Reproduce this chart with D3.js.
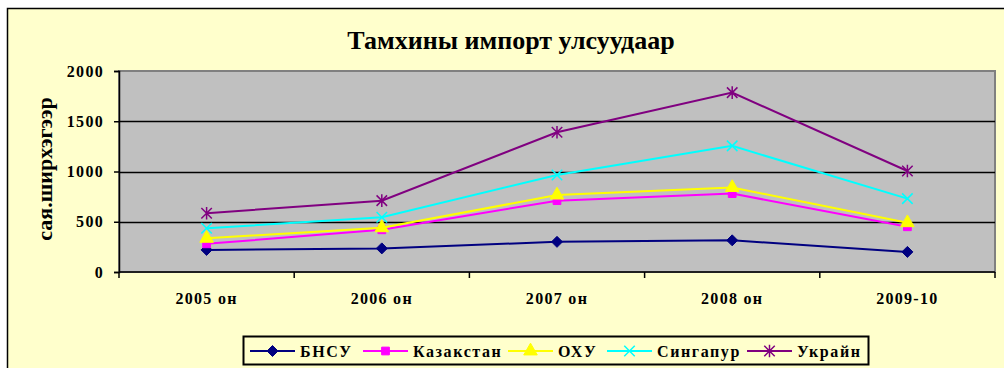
<!DOCTYPE html>
<html>
<head>
<meta charset="utf-8">
<script src="https://cdn.jsdelivr.net/npm/d3@7"></script>
<style>
  html, body { margin: 0; padding: 0; background: #ffffff; }
  svg { display: block; }
  text { font-family: "Liberation Serif", "Times New Roman", serif; font-weight: bold; fill: #000; }
</style>
</head>
<body>
<svg id="chart" width="1004" height="368"></svg>
<script>
// Tobacco imports by country, million pieces
const categories = ["2005 он", "2006 он", "2007 он", "2008 он", "2009-10"];
const bnsu       = [220, 235, 300, 315, 200];
const kazakhstan = [280, 420, 710, 780, 450];
const ohu        = [335, 440, 765, 840, 490];
const singapore  = [435, 545, 965, 1255, 730];
const ukraine    = [585, 710, 1390, 1785, 1005];
const yTicks     = [0, 500, 1000, 1500, 2000];
const seriesNames  = ["БНСУ", "Казакстан", "ОХУ", "Сингапур", "Украйн"];
const seriesValues = [bnsu, kazakhstan, ohu, singapore, ukraine];
const seriesColors = ["#000080", "#ff00ff", "#ffff00", "#00ffff", "#800080"];

const titleText = "Тамхины импорт улсуудаар";
const yTitleText = "сая.ширхэгээр";

// Excel-like marker shapes
const diamondSymbol = {
  draw(ctx, size) {
    const r = Math.sqrt(size) / 2;
    ctx.moveTo(0, -r); ctx.lineTo(r, 0); ctx.lineTo(0, r); ctx.lineTo(-r, 0); ctx.closePath();
  }
};
const starSymbol = {
  draw(ctx, size) {
    const r = Math.sqrt(size) / 2;
    ctx.moveTo(-r, -r); ctx.lineTo(r, r);
    ctx.moveTo(-r, r); ctx.lineTo(r, -r);
    ctx.moveTo(0, -r * 1.2); ctx.lineTo(0, r * 1.2);
  }
};
const crossSymbol = {
  draw(ctx, size) {
    const r = Math.sqrt(size) / 2;
    ctx.moveTo(-r, -r); ctx.lineTo(r, r);
    ctx.moveTo(-r, r); ctx.lineTo(r, -r);
  }
};
const markers = [
  { type: diamondSymbol, size: 121, filled: true },
  { type: d3.symbolSquare, size: 60, filled: true },
  { type: d3.symbolTriangle, size: 80, filled: true },
  { type: crossSymbol, size: 110, filled: false },
  { type: starSymbol, size: 110, filled: false }
];

const svg = d3.select("#chart");

// chart area
svg.append("rect")
  .attr("x", 7.5).attr("y", 8.5)
  .attr("width", 1010).attr("height", 380)
  .attr("fill", "#ffffcc")
  .attr("stroke", "#000").attr("stroke-width", 1.5);

const plot = { left: 119, right: 995, top: 71, bottom: 272 };

const x = d3.scaleBand().domain(categories).range([plot.left, plot.right]).padding(0);
const y = d3.scaleLinear().domain([0, 2000]).range([plot.bottom, plot.top]);

// plot background
svg.append("rect")
  .attr("x", plot.left).attr("y", plot.top)
  .attr("width", plot.right - plot.left).attr("height", plot.bottom - plot.top)
  .attr("fill", "#c0c0c0")
  .attr("stroke", "#808080").attr("stroke-width", 2);

// horizontal gridlines
svg.append("g")
  .selectAll("line")
  .data(yTicks.filter(d => d > 0 && d < 2000))
  .join("line")
  .attr("x1", plot.left).attr("x2", plot.right)
  .attr("y1", d => Math.round(y(d)) + 0.5).attr("y2", d => Math.round(y(d)) + 0.5)
  .attr("stroke", "#000").attr("stroke-width", 1.5);

// y axis
const yAxis = svg.append("g")
  .attr("transform", `translate(${plot.left},0)`)
  .call(d3.axisLeft(y).tickValues(yTicks).tickSize(5).tickPadding(10).tickFormat(d3.format("d")));
yAxis.select(".domain").attr("stroke", "#000").attr("stroke-width", 1.5);
yAxis.selectAll(".tick line").attr("stroke", "#000").attr("stroke-width", 1.5);
yAxis.selectAll(".tick text")
  .style("font-family", "'Liberation Serif', serif")
  .style("font-weight", "bold").style("font-size", "16px")
  .style("letter-spacing", "1.3px")
  .attr("fill", "#000");

// x axis: ticks at category boundaries, labels centred in bands
const xBounds = categories.map(c => x(c)).concat([plot.right]);
const xAxis = svg.append("g");
xAxis.append("line")
  .attr("x1", plot.left).attr("x2", plot.right)
  .attr("y1", plot.bottom).attr("y2", plot.bottom)
  .attr("stroke", "#000").attr("stroke-width", 1.5);
xAxis.selectAll("line.tick")
  .data(xBounds)
  .join("line").attr("class", "tick")
  .attr("x1", d => d).attr("x2", d => d)
  .attr("y1", plot.bottom).attr("y2", plot.bottom + 6)
  .attr("stroke", "#000").attr("stroke-width", 1.5);
xAxis.selectAll("text")
  .data(categories)
  .join("text")
  .attr("x", d => x(d) + x.bandwidth() / 2)
  .attr("y", 304)
  .attr("text-anchor", "middle")
  .style("font-size", "16px")
  .style("letter-spacing", "1.3px")
  .text(d => d);

// series lines and markers
const line = d3.line()
  .x((d, i) => x(categories[i]) + x.bandwidth() / 2)
  .y(d => y(d));

seriesValues.forEach((vals, s) => {
  const g = svg.append("g");
  g.append("path")
    .datum(vals)
    .attr("d", line)
    .attr("fill", "none")
    .attr("stroke", seriesColors[s])
    .attr("stroke-width", 2);
  const m = markers[s];
  g.selectAll("path.marker")
    .data(vals)
    .join("path").attr("class", "marker")
    .attr("transform", (d, i) => `translate(${x(categories[i]) + x.bandwidth() / 2},${y(d)})`)
    .attr("d", d3.symbol().type(m.type).size(m.size))
    .attr("fill", m.filled ? seriesColors[s] : "none")
    .attr("stroke", seriesColors[s])
    .attr("stroke-width", m.filled ? 1 : 1.5);
});

// title
svg.append("text")
  .attr("x", 511).attr("y", 49)
  .attr("text-anchor", "middle")
  .style("font-size", "26px")
  .text(titleText);

// y axis title
svg.append("text")
  .attr("transform", "translate(52,169) rotate(-90)")
  .attr("text-anchor", "middle")
  .style("font-size", "22px")
  .text(yTitleText);

// legend
const legend = svg.append("g");
legend.append("rect")
  .attr("x", 243.5).attr("y", 336.5)
  .attr("width", 625).attr("height", 28)
  .attr("fill", "#ffffcc")
  .attr("stroke", "#000").attr("stroke-width", 2);
const legendX = [250, 363, 508, 607, 747];
seriesNames.forEach((name, s) => {
  const lx = legendX[s];
  const ly = 351;
  legend.append("line")
    .attr("x1", lx).attr("x2", lx + 45)
    .attr("y1", ly).attr("y2", ly)
    .attr("stroke", seriesColors[s]).attr("stroke-width", 2);
  const m = markers[s];
  legend.append("path")
    .attr("transform", `translate(${lx + 22.5},${ly})`)
    .attr("d", d3.symbol().type(m.type).size(m.size))
    .attr("fill", m.filled ? seriesColors[s] : "none")
    .attr("stroke", seriesColors[s])
    .attr("stroke-width", m.filled ? 1 : 1.5);
  legend.append("text")
    .attr("x", lx + 50).attr("y", ly + 6)
    .style("font-size", "16px")
    .style("letter-spacing", "1.6px")
    .text(name);
});
</script>
</body>
</html>
